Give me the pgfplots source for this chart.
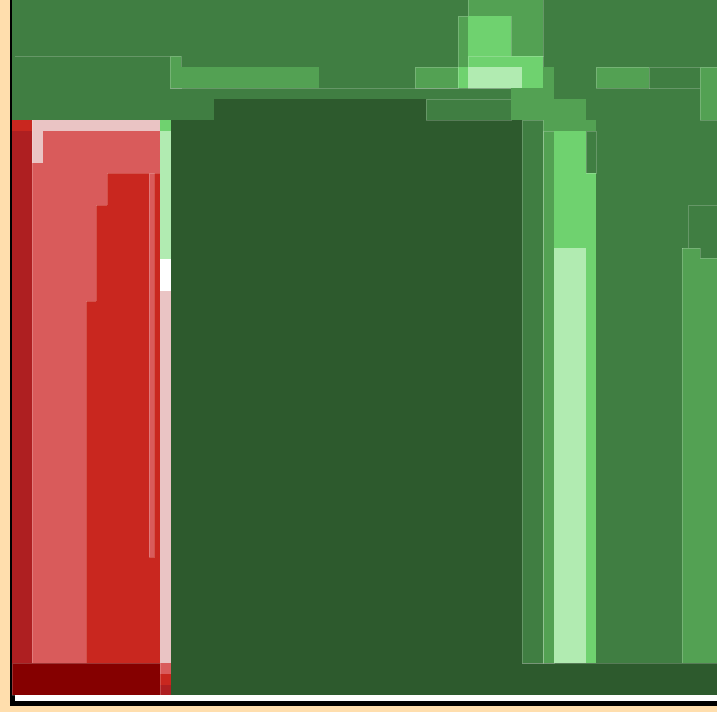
\documentclass[border=0pt]{standalone}
\usepackage{pgfplots}
\pgfplotsset{compat=1.18}
\definecolor{peach}{HTML}{FFDEAD}
\definecolor{gmed}{HTML}{407E42}
\definecolor{gdark}{HTML}{2D5A2D}
\definecolor{gmid}{HTML}{53A153}
\definecolor{glight}{HTML}{6FD26F}
\definecolor{gvlight}{HTML}{B1EBB1}
\definecolor{rdark}{HTML}{AE1F21}
\definecolor{rred}{HTML}{C9271F}
\definecolor{rlight}{HTML}{D95B5B}
\definecolor{rpink}{HTML}{EAC4C4}
\definecolor{maroon}{HTML}{850000}
\newcommand{\R}[5]{\addplot[fill=#1,draw=none,forget plot] coordinates {(#2,#3) (#4,#3) (#4,#5) (#2,#5)} -- cycle;}
\newcommand{\Ro}[5]{\addplot[fill=#1,draw=white,draw opacity=0.2,line width=0.5pt,forget plot] coordinates {(#2,#3) (#4,#3) (#4,#5) (#2,#5)} -- cycle;}
\newcommand{\Ln}[4]{\addplot[draw=white,draw opacity=0.2,line width=0.5pt,forget plot] coordinates {(#1,#2) (#3,#4)};}
\begin{document}
\begin{tikzpicture}
\begin{axis}[scale only axis, width=14.34cm, height=14.24cm, hide axis,
  xmin=0, xmax=717, ymin=0, ymax=712, y dir=reverse, clip=true]
% background and frame
\R{peach}{0}{0}{717}{712}
\R{black}{10}{0}{717}{706}
\R{white}{15}{695}{717}{701}
% base
\R{gmed}{12}{0}{717}{663}
% top boxes
\Ln{15}{56}{181}{56}
\Ro{gmid}{468}{-2}{543}{56}
\Ro{gmid}{458}{16}{511}{67}
\R{glight}{468}{16}{511}{56}
\Ro{glight}{468}{56}{543}{88}
\R{glight}{458}{67}{468}{88}
\R{gvlight}{468}{67}{522}{88}
\Ro{gmid}{415}{67}{458}{88}
\Ro{gmid}{170}{56}{181}{88}
\R{gmid}{181}{67}{319}{88}
\Ln{170}{88}{511}{88}
\Ro{gmid}{596}{67}{649}{88}
\Ro{gmed}{649}{67}{700}{88}
\Ro{gmid}{700}{67}{720}{120}
% dark green
\R{gdark}{214}{99}{426}{121}
\R{gdark}{171}{120}{522}{695}
\R{gdark}{522}{663}{720}{695}
\Ro{gmed}{426}{99}{511}{120}
% middle green column
\R{gmid}{543}{67}{554}{99}
\R{gmid}{511}{88}{554}{99}
\R{gmid}{511}{99}{586}{120}
\R{gmid}{543}{120}{596}{131}
\Ro{gmid}{543}{131}{554}{663}
\Ro{gmed}{522}{120}{543}{663}
\R{glight}{554}{131}{586}{248}
\R{glight}{586}{173}{596}{663}
\Ro{gmed}{586}{131}{596}{173}
\R{gvlight}{554}{248}{586}{663}
% right side
\Ro{gmed}{688}{205}{720}{258}
\R{gmid}{682}{248}{700}{663}
\R{gmid}{700}{258}{720}{663}
\Ln{682}{248}{700}{248}
\Ln{682}{248}{682}{663}
\Ln{700}{248}{700}{258}
\Ln{700}{258}{720}{258}
\Ln{522}{663}{720}{663}
% reds
\R{rred}{12}{120}{32}{131}
\R{rdark}{12}{131}{32}{663}
\R{rpink}{32}{120}{160}{131}
\R{rpink}{32}{131}{43}{163}
\R{rlight}{43}{131}{160}{163}
\R{rlight}{32}{163}{160}{663}
\Ln{32}{120}{32}{663}
\R{rred}{107}{173}{160}{663}
\R{rred}{96}{205}{107}{663}
\R{rred}{86}{301}{96}{663}
\Ln{107}{173}{160}{173}
\Ln{107}{173}{107}{205}
\Ln{96}{205}{107}{205}
\Ln{96}{205}{96}{301}
\Ln{86}{301}{96}{301}
\Ln{86}{301}{86}{663}
\Ro{rlight}{149}{173}{154}{557}
% strip column
\R{glight}{160}{120}{171}{131}
\R{gvlight}{160}{131}{171}{259}
\R{white}{160}{259}{171}{291}
\R{rpink}{160}{291}{171}{663}
\R{rlight}{160}{663}{171}{674}
\R{rred}{160}{674}{171}{685}
\R{rdark}{160}{685}{171}{695}
\Ro{maroon}{12}{663}{160}{695}
\end{axis}
\end{tikzpicture}
\end{document}
